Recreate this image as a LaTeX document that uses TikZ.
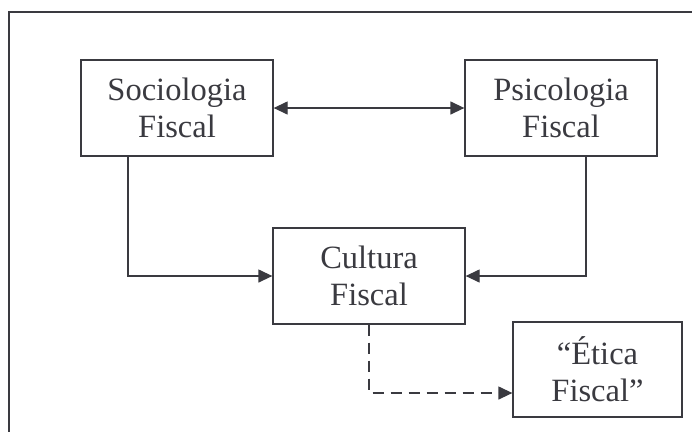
\documentclass[tikz,border=0pt]{standalone}
\usepackage{fontspec}
\setmainfont{Liberation Serif}
\usetikzlibrary{arrows.meta}
\definecolor{ink}{RGB}{58,58,64}
\begin{document}
\begin{tikzpicture}[x=1pt,y=-1pt,
  line width=1.3pt, draw=ink,
  box/.style={draw=ink, rectangle, inner sep=0pt, align=center,
    minimum width=192pt, minimum height=96pt,
    font=\fontsize{32.5}{37}\selectfont, text=ink},
  conn/.style={draw=ink, line width=1.3pt},
  tip/.style={-{Triangle[length=14pt,width=13pt]}},
  dashline/.style={dash pattern=on 11pt off 7pt}]
\useasboundingbox (0,0) rectangle (692,432);
\draw[ink, line width=1.5pt] (692,12) -- (9,12) -- (9,432);
\node[box] (soc) at (177,108) {Sociologia\\Fiscal};
\node[box] (psi) at (561,108) {Psicologia\\Fiscal};
\node[box] (cul) at (369,276) {Cultura\\Fiscal};
\node[box, minimum width=169pt, minimum height=95pt] (eti) at (597.5,369.5) {“Ética\\Fiscal”};
\draw[conn, {Triangle[length=14pt,width=13pt]}-{Triangle[length=14pt,width=13pt]}] (soc.east) -- (psi.west);
\draw[conn, tip] ([xshift=-49pt]soc.south) |- (cul.west);
\draw[conn, tip] ([xshift=25pt]psi.south) |- (cul.east);
\draw[conn, tip, dashline] (cul.south) |- ([yshift=-23.5pt]eti.west);
\end{tikzpicture}
\end{document}
